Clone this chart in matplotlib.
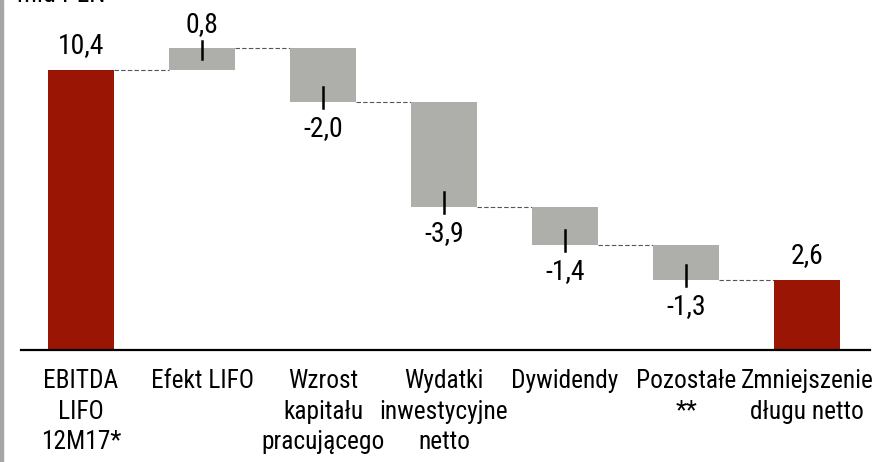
import matplotlib
matplotlib.use("Agg")
import matplotlib.pyplot as plt
from matplotlib.patches import Rectangle

plt.rcParams['font.family'] = ['Roboto Condensed', 'Liberation Sans', 'DejaVu Sans']

categories = ["EBITDA\nLIFO\n12M17*", "Efekt LIFO", "Wzrost\nkapitału\npracującego",
              "Wydatki\ninwestycyjne\nnetto", "Dywidendy", "Pozostałe\n**",
              "Zmniejszenie\ndługu netto"]
values = [10.4, 0.8, -2.0, -3.9, -1.4, -1.3, 2.6]
labels = ["10,4", "0,8", "-2,0", "-3,9", "-1,4", "-1,3", "2,6"]
is_total = [True, False, False, False, False, False, True]

red = "#9b1505"
grey = "#aeafaa"

fig = plt.figure(figsize=(8.75, 4.62), dpi=100)
ax = fig.add_axes([21 / 875, 1 - 350 / 462, 849 / 875, 350 / 462])

width = 0.545
running = 0.0
tops = []
for i, (v, tot) in enumerate(zip(values, is_total)):
    if tot:
        bottom, height = 0.0, v
        running = v
        color = red
    else:
        bottom = running if v > 0 else running + v
        height = abs(v)
        running = running + v
        color = grey
    ax.bar(i, height, bottom=bottom, width=width, color=color, zorder=2)
    tops.append(running)

    top = bottom + height
    if tot or v > 0:
        ax.text(i, top + 0.4, labels[i], ha="center", va="bottom", fontsize=20)
    else:
        ax.text(i, bottom - 0.48, labels[i], ha="center", va="top", fontsize=20)
    # leader ticks on the changes
    if not tot:
        if v > 0:
            ax.plot([i, i], [top + 0.27, top - 0.38], color="black", lw=1.8, zorder=3)
        else:
            ax.plot([i, i], [bottom - 0.22, bottom + 0.55], color="black", lw=1.8, zorder=3)

# dashed connectors
for i in range(len(values) - 1):
    level = tops[i]
    ax.plot([i + width / 2, i + 1 - width / 2], [level, level], color="#555555",
            lw=0.8, ls=(0, (4, 2)), zorder=1)

ax.set_xlim(-0.496, 6.52)
ax.set_ylim(0, 13.0)
ax.set_xticks(range(len(categories)))
ax.set_xticklabels(categories, fontsize=18.3, linespacing=1.32)
ax.tick_params(axis="x", length=0, pad=14)
ax.set_yticks([])
for s in ["top", "right", "left"]:
    ax.spines[s].set_visible(False)
ax.spines["bottom"].set_linewidth(1.6)

fig.text(17 / 875, 1 - 2 / 462, "mld PLN", ha="left", va="baseline", fontsize=19)
fig.patches.append(Rectangle((0, 0), 3 / 875, 1, transform=fig.transFigure,
                             color="#a6a6a6", zorder=0))

fig.savefig("out.png", dpi=100)
